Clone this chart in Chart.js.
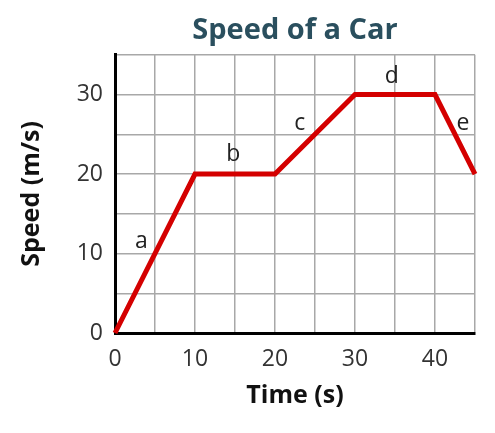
<!DOCTYPE html>
<html>
<head>
<meta charset="utf-8">
<script src="https://cdn.jsdelivr.net/npm/chart.js@4.4.1/dist/chart.umd.min.js"></script>
<style>
  html, body { margin: 0; padding: 0; background: #fff; }
  #wrap { width: 495px; height: 433px; }
</style>
</head>
<body>
<div id="wrap"><canvas id="speedChart"></canvas></div>
<script>
// time (s) and speed (m/s)
const timeValues = [0, 10, 20, 30, 40, 45];
const speedValues = [0, 20, 20, 30, 30, 20];

// segment letters and where they sit
const segLabels = ['a', 'b', 'c', 'd', 'e'];
const segLabelX = [3.3, 14.8, 23.1, 34.6, 43.5];
const segLabelY = [11.5, 22.4, 26.4, 32.3, 26.4];

const xTickLabels = [0, 10, 20, 30, 40];
const yTickLabels = [0, 10, 20, 30];

// draws the a..e letters next to the segments
const segmentLetters = {
    id: 'segmentLetters',
    afterDatasetsDraw(chart) {
        const { ctx, scales: { x, y } } = chart;
        ctx.save();
        ctx.font = '23px "Open Sans"';
        ctx.fillStyle = '#222';
        ctx.textAlign = 'center';
        ctx.textBaseline = 'middle';
        segLabels.forEach((txt, i) => {
            ctx.fillText(txt, x.getPixelForValue(segLabelX[i]), y.getPixelForValue(segLabelY[i]));
        });
        ctx.restore();
    }
};

const ctx = document.getElementById('speedChart').getContext('2d');
new Chart(ctx, {
    type: 'line',
    data: {
        datasets: [{
            data: timeValues.map((t, i) => ({ x: t, y: speedValues[i] })),
            borderColor: '#d40000',
            borderWidth: 5,
            pointRadius: 0,
            borderJoinStyle: 'miter',
            tension: 0,
            clip: 6
        }]
    },
    options: {
        responsive: true,
        maintainAspectRatio: false,
        animation: false,
        layout: { padding: { left: 0, right: 20, top: 0, bottom: 0 } },
        plugins: {
            legend: { display: false },
            tooltip: { enabled: false },
            title: {
                display: true,
                text: 'Speed of a Car',
                color: '#2a4f5e',
                fullSize: false,
                font: { family: '"Open Sans"', size: 29, weight: 'bold' },
                padding: { top: 13, bottom: 7 }
            }
        },
        scales: {
            x: {
                type: 'linear',
                min: 0,
                max: 45,
                afterFit(scale) { scale.height = 100; },
                ticks: {
                    stepSize: 5,
                    autoSkip: false,
                    maxRotation: 0,
                    padding: 13,
                    color: '#333',
                    font: { family: '"Open Sans"', size: 23 },
                    callback: v => xTickLabels.includes(v) ? v : ''
                },
                grid: { color: '#a8a8a8', lineWidth: 1.5, drawTicks: false },
                border: { color: '#000', width: 3 },
                title: {
                    display: true,
                    text: 'Time (s)',
                    color: '#111',
                    font: { family: '"Open Sans"', size: 25, weight: 'bold' },
                    padding: { top: 0, bottom: 22 }
                }
            },
            y: {
                type: 'linear',
                min: 0,
                max: 35,
                afterFit(scale) { scale.width = 115; },
                ticks: {
                    stepSize: 5,
                    autoSkip: false,
                    padding: 12,
                    color: '#333',
                    font: { family: '"Open Sans"', size: 23 },
                    callback: v => yTickLabels.includes(v) ? v : ''
                },
                grid: { color: '#a8a8a8', lineWidth: 1.5, drawTicks: false },
                border: { color: '#000', width: 3 },
                title: {
                    display: true,
                    text: 'Speed (m/s)',
                    color: '#111',
                    font: { family: '"Open Sans"', size: 25, weight: 'bold' },
                    padding: { top: 17, bottom: 0 }
                }
            }
        }
    },
    plugins: [segmentLetters]
});
</script>
</body>
</html>
